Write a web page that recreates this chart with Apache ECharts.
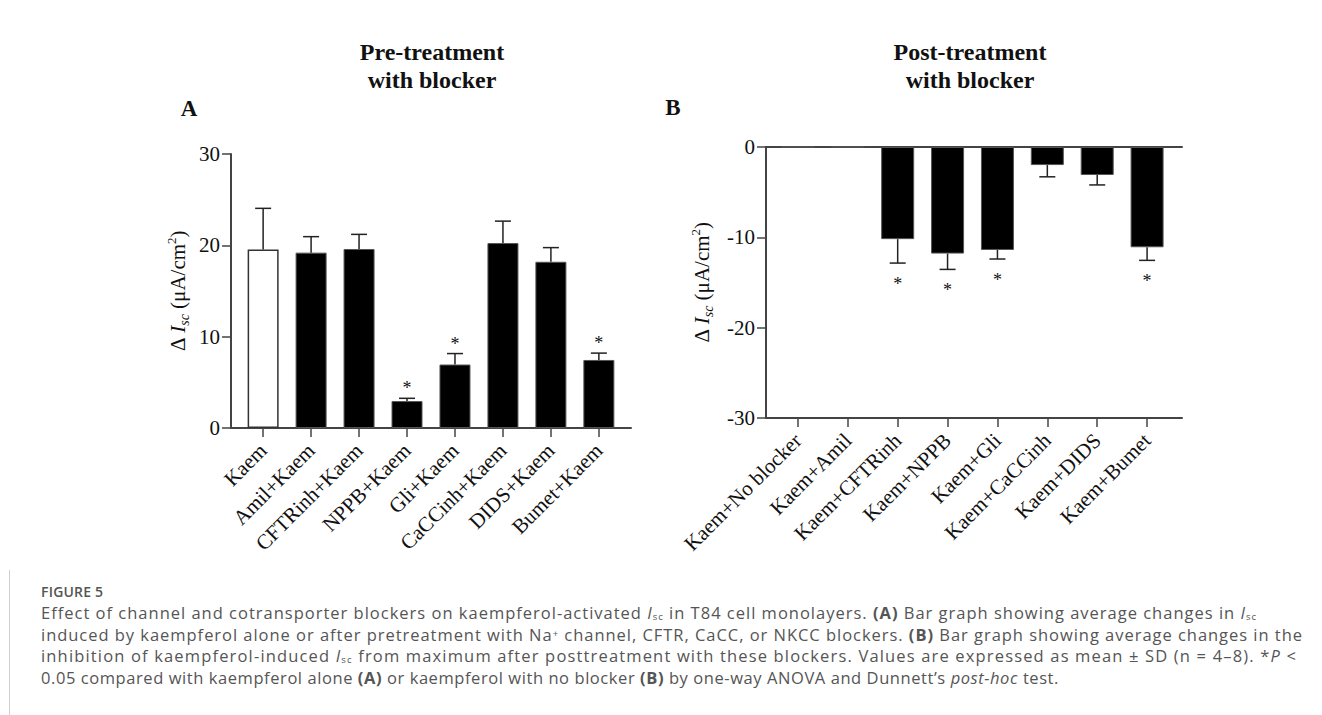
<!DOCTYPE html>
<html>
<head>
<meta charset="utf-8">
<script src="https://cdn.jsdelivr.net/npm/echarts@6/dist/echarts.min.js"></script>
<style>
  body { margin: 0; background: #fff; }
  #wrap { position: relative; width: 1322px; height: 715px; overflow: hidden; }
  #chart { position: absolute; left: 0; top: 0; width: 1322px; height: 715px; }
  #rule { position: absolute; left: 9px; top: 570px; width: 1px; height: 145px; background: #cfcfcf; }
  #caption { position: absolute; left: 41px; top: 582px; font-family: 'Open Sans', 'Noto Sans', sans-serif; color: #555; }
  #caption .fig { font-size: 14px; font-weight: 600; line-height: 20px; letter-spacing: 0.2px; }
  #caption .ln { font-size: 16.5px; line-height: 21.7px; height: 21.7px; white-space: nowrap; }
  #caption sub { font-size: 9.5px; line-height: 0; vertical-align: -1px; }
  #caption sup { font-size: 9.5px; line-height: 0; vertical-align: 4px; }
</style>
</head>
<body>
<div id="wrap">
  <div id="chart"></div>
  <div id="rule"></div>
  <div id="caption">
    <div class="fig">FIGURE 5</div>
    <div class="ln" data-w="1216">Effect of channel and cotransporter blockers on kaempferol-activated <i>I</i><sub>sc</sub> in T84 cell monolayers. <b>(A)</b> Bar graph showing average changes in <i>I</i><sub>sc</sub></div>
    <div class="ln" data-w="1262">induced by kaempferol alone or after pretreatment with Na<sup>+</sup> channel, CFTR, CaCC, or NKCC blockers. <b>(B)</b> Bar graph showing average changes in the</div>
    <div class="ln" data-w="1256">inhibition of kaempferol-induced <i>I</i><sub>sc</sub> from maximum after posttreatment with these blockers. Values are expressed as mean ± SD (n = 4–8). *<i>P</i> &lt;</div>
    <div class="ln" data-w="1018">0.05 compared with kaempferol alone <b>(A)</b> or kaempferol with no blocker <b>(B)</b> by one-way ANOVA and Dunnett’s <i>post-hoc</i> test.</div>
  </div>
</div>
<script>
// panel A: pre-treatment with blocker
const catsA = ['Kaem', 'Amil+Kaem', 'CFTRinh+Kaem', 'NPPB+Kaem', 'Gli+Kaem', 'CaCCinh+Kaem', 'DIDS+Kaem', 'Bumet+Kaem']
const meanA = [19.55, 19.2, 19.6, 2.95, 6.95, 20.25, 18.2, 7.45]
const sdA = [4.5, 1.75, 1.6, 0.3, 1.2, 2.4, 1.55, 0.75]
const sigA = [0, 0, 0, 1, 1, 0, 0, 1]
const ticksA = [0, 10, 20, 30]

// panel B: post-treatment with blocker
const catsB = ['Kaem+No blocker', 'Kaem+Amil', 'Kaem+CFTRinh', 'Kaem+NPPB', 'Kaem+Gli', 'Kaem+CaCCinh', 'Kaem+DIDS', 'Kaem+Bumet']
const meanB = [0, 0, -10.2, -11.8, -11.4, -2.0, -3.1, -11.1]
const sdB = [0, 0, 2.65, 1.75, 1.0, 1.3, 1.1, 1.45]
const sigB = [0, 0, 1, 1, 1, 0, 0, 1]
const ticksB = [-30, -20, -10, 0]

const serif = 'Liberation Serif, Times New Roman, serif'
const ink = '#111'
const axisColor = '#444'

const chart = echarts.init(document.getElementById('chart'), null, {renderer: 'svg'})

const idx = catsA.map((c, i) => i)

function yName() {
  return 'Δ {i|I}{sub|sc} (μA/cm{sup|2})'
}

const nameStyle = {
  fontFamily: serif,
  fontSize: 21,
  color: ink,
  lineHeight: 26,
  rich: {
    i: {fontFamily: serif, fontSize: 21, fontStyle: 'italic', color: ink, lineHeight: 26},
    sub: {fontFamily: serif, fontSize: 14, fontStyle: 'italic', color: ink, verticalAlign: 'bottom'},
    sup: {fontFamily: serif, fontSize: 13, color: ink, verticalAlign: 'top'},
  },
}

function catAxis(gridIndex, cats, min, max) {
  return {
    gridIndex,
    type: 'value',
    min,
    max,
    splitLine: {show: false},
    axisLine: {show: true, onZero: false, lineStyle: {color: axisColor, width: 2}},
    axisTick: {show: true, customValues: idx, length: 9, lineStyle: {color: axisColor, width: 1.5}},
    axisLabel: {
      customValues: idx,
      rotate: 45,
      margin: 19,
      fontFamily: serif,
      fontSize: 21,
      color: ink,
      formatter: v => cats[Math.round(v)],
    },
  }
}

function valAxis(gridIndex, min, max, ticks, gap) {
  return {
    gridIndex,
    type: 'value',
    min,
    max,
    interval: 10,
    splitLine: {show: false},
    axisLine: {show: true, onZero: false, lineStyle: {color: axisColor, width: 2}},
    axisTick: {show: true, customValues: ticks, length: 9, lineStyle: {color: axisColor, width: 1.5}},
    axisLabel: {customValues: ticks, margin: 11, fontFamily: serif, fontSize: 21, color: ink},
    name: yName(),
    nameLocation: 'middle',
    nameGap: gap,
    nameTextStyle: nameStyle,
  }
}

// error bar + significance star, dir = 1 (up) or -1 (down)
function errRender(dir, starGap) {
  return function (params, api) {
    const i = api.value(0)
    const m = api.value(1)
    const s = api.value(2)
    const sig = api.value(3)
    const children = []
    const p0 = api.coord([i, m])
    const p1 = api.coord([i, m + dir * s])
    const st = {stroke: '#222', lineWidth: 1.5}
    if (s > 0) {
      children.push({type: 'line', shape: {x1: p0[0], y1: p0[1], x2: p1[0], y2: p1[1]}, style: st})
      children.push({type: 'line', shape: {x1: p1[0] - 8, y1: p1[1], x2: p1[0] + 8, y2: p1[1]}, style: st})
    }
    if (sig) {
      children.push({
        type: 'text',
        x: p1[0],
        y: p1[1] - dir * starGap + 3,
        style: {text: '*', fill: ink, font: '18px ' + serif, align: 'center', verticalAlign: 'middle'},
      })
    }
    return {type: 'group', children}
  }
}

function barItems(means, firstWhite) {
  return means.map((v, i) => ({
    value: [i, v],
    itemStyle: firstWhite && i === 0
      ? {color: '#fff', borderColor: '#333', borderWidth: 1.5}
      : {color: '#000', borderColor: '#555', borderWidth: 1},
  }))
}

const titleStyle = {fill: ink, font: 'bold 24px ' + serif, align: 'center', verticalAlign: 'middle', lineHeight: 28}

chart.setOption({
  animation: false,
  grid: [
    {left: 231, top: 154, width: 400, height: 274, outerBoundsMode: 'none'},
    {left: 766, top: 147, width: 416, height: 271, outerBoundsMode: 'none'},
  ],
  xAxis: [
    catAxis(0, catsA, -0.67, 7.67),
    catAxis(1, catsB, -0.64, 7.7),
    {
      gridIndex: 1, type: 'value', position: 'top', min: -0.64, max: 7.7,
      splitLine: {show: false}, axisTick: {show: false}, axisLabel: {show: false},
      axisLine: {show: true, onZero: false, lineStyle: {color: axisColor, width: 2}},
    },
  ],
  yAxis: [
    valAxis(0, 0, 30, ticksA, 40),
    valAxis(1, -30, 0, ticksB, 51),
  ],
  graphic: [
    {type: 'text', x: 432, y: 66, style: Object.assign({text: 'Pre-treatment\nwith blocker'}, titleStyle)},
    {type: 'text', x: 970, y: 66, style: Object.assign({text: 'Post-treatment\nwith blocker'}, titleStyle)},
    {type: 'text', x: 189, y: 108, style: {text: 'A', fill: ink, font: 'bold 23px ' + serif, align: 'center', verticalAlign: 'middle'}},
    {type: 'text', x: 673, y: 107, style: {text: 'B', fill: ink, font: 'bold 23px ' + serif, align: 'center', verticalAlign: 'middle'}},
  ],
  series: [
    {
      type: 'bar', xAxisIndex: 0, yAxisIndex: 0, barWidth: 31,
      data: barItems(meanA, true),
    },
    {
      type: 'custom', xAxisIndex: 0, yAxisIndex: 0, clip: false, z: 5,
      renderItem: errRender(1, 13),
      data: meanA.map((v, i) => [i, v, sdA[i], sigA[i]]),
    },
    {
      type: 'bar', xAxisIndex: 1, yAxisIndex: 1, barWidth: 33,
      data: barItems(meanB, false),
    },
    {
      type: 'custom', xAxisIndex: 1, yAxisIndex: 1, clip: false, z: 5,
      renderItem: errRender(-1, 18),
      data: meanB.map((v, i) => [i, v, sdB[i], sigB[i]]),
    },
  ],
})

// stretch caption lines to the widths seen in the figure
document.querySelectorAll('#caption .ln[data-w]').forEach(el => {
  const target = +el.dataset.w
  el.style.display = 'inline-block'
  const natural = el.getBoundingClientRect().width
  const n = el.textContent.length
  el.style.letterSpacing = ((target - natural) / n) + 'px'
  el.style.display = 'block'
})
</script>
</body>
</html>
